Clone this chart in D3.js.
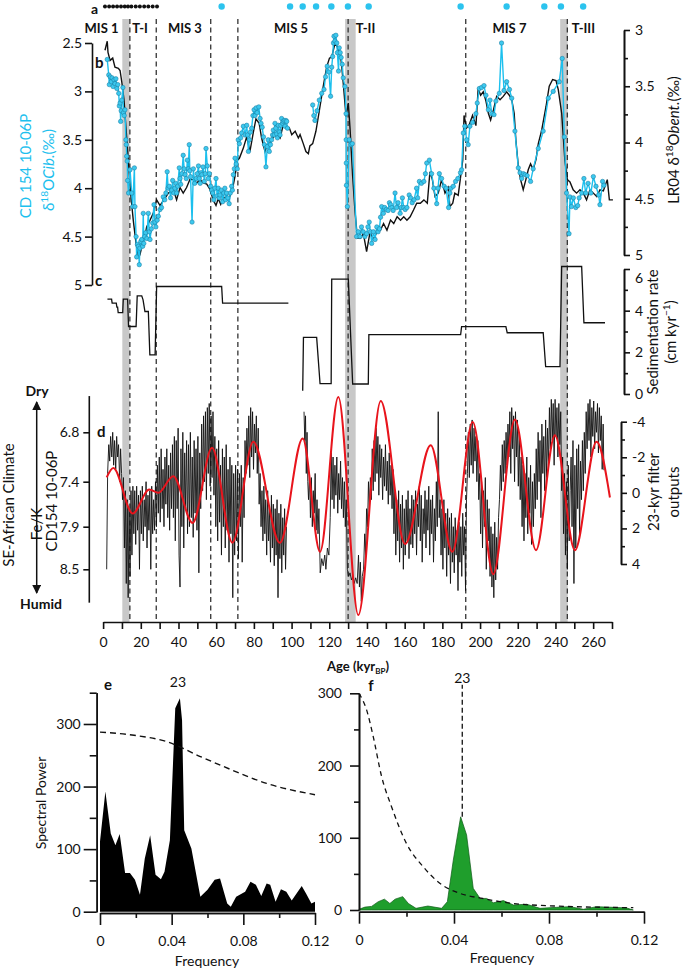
<!DOCTYPE html>
<html><head><meta charset="utf-8">
<script src="https://cdn.jsdelivr.net/npm/d3@7"></script>
<style>
body{margin:0;background:#fff;}
svg{display:block;font-family:Lato,'Open Sans',sans-serif;}
.axis text{font-size:14px;fill:#111;font-family:Lato,'Open Sans',sans-serif;}
.axis path,.axis line{stroke:#111;stroke-width:1.6;}
</style></head><body>
<svg id="c" width="685" height="970"></svg>
<script>
// ---------- DATA ----------
const bands=[[10.2,14.0],[128.4,134.0],[242.5,246.5]];
const boundaries=[14.2,28.2,57.1,71.5,130.0,192.4,246.3];
const misLabels=["MIS 1","T-I","MIS 3","MIS 5","T-II","MIS 7","T-III"];
const misAges=[-0.85,19.6,43.4,99.7,139.2,215.6,254.8];
const c14Ages=[1.0,3.2,5.3,7.4,9.5,11.5,13.2,15.0,17.3,19.5,21.8,24.0,26.3,28.6];
const tieAges=[62.9,99.2,105.9,113.0,121.1,129.9,140.9,189.7,214.1,234.1,242.9,254.7];

// LR04 benthic d18O (right axis, panel b)
const lr04=[[1.0,3.18],[2.2,3.1],[2.6,3.2],[3.7,3.27],[5.1,3.25],[6.3,3.33],[8.1,3.34],[9.0,3.36],[9.9,3.46],[11.1,3.62],[12.1,3.86],[13.4,4.16],[14.6,4.45],[16.0,4.69],[17.5,4.9],[18.7,5.01],[19.5,5.0],[20.9,4.9],[22.0,4.85],[23.1,4.75],[24.9,4.69],[26.6,4.63],[28.4,4.51],[30.2,4.56],[32.3,4.51],[34.6,4.45],[37.3,4.42],[39.0,4.51],[40.8,4.4],[42.5,4.45],[44.3,4.4],[46.0,4.33],[47.9,4.33],[49.6,4.36],[51.5,4.33],[53.2,4.36],[55.0,4.37],[56.8,4.42],[58.4,4.51],[59.9,4.56],[61.1,4.5],[62.4,4.55],[63.8,4.48],[65.5,4.51],[67.3,4.48],[68.8,4.4],[70.0,4.3],[71.2,4.16],[72.3,4.14],[74.4,4.05],[76.2,3.95],[77.9,4.08],[79.7,3.91],[81.1,3.79],[82.8,3.83],[84.1,3.96],[85.9,4.08],[87.1,4.02],[88.9,4.0],[90.3,3.95],[92.1,3.93],[93.9,3.96],[95.6,3.84],[97.4,3.87],[98.8,3.87],[100.1,3.93],[101.9,3.9],[103.6,3.96],[104.5,3.93],[106.2,4.01],[107.6,4.08],[108.9,4.1],[109.7,4.03],[111.2,4.01],[112.9,3.9],[114.7,3.72],[116.8,3.5],[118.6,3.33],[120.1,3.25],[121.3,3.24],[123.0,3.12],[124.3,3.15],[125.7,3.21],[126.5,3.3],[127.4,3.47],[128.9,3.77],[130.1,3.65],[131.0,3.87],[132.4,4.3],[133.6,4.6],[134.9,4.85],[136.6,4.85],[138.1,4.81],[139.8,4.97],[141.6,4.8],[143.4,4.86],[145.2,4.8],[147.1,4.78],[148.8,4.72],[150.6,4.78],[152.5,4.69],[154.2,4.72],[156.0,4.66],[157.8,4.69],[159.5,4.66],[161.2,4.69],[162.9,4.66],[164.7,4.6],[166.4,4.54],[168.3,4.54],[170.2,4.51],[172.0,4.54],[173.4,4.26],[174.7,4.33],[176.1,4.48],[177.8,4.45],[179.6,4.33],[181.4,4.45],[183.1,4.4],[184.0,4.57],[185.5,4.54],[186.6,4.45],[188.4,4.47],[190.8,4.16],[191.5,3.76],[192.9,3.87],[194.3,3.84],[196.0,3.76],[197.8,3.85],[199.0,3.52],[200.3,3.58],[201.7,3.55],[203.1,3.63],[204.4,3.74],[205.6,3.8],[207.1,3.71],[208.8,3.59],[210.6,3.62],[212.3,3.59],[214.1,3.55],[215.5,3.58],[216.8,3.62],[218.1,3.74],[219.0,3.98],[220.3,4.21],[221.5,4.33],[222.9,4.42],[224.3,4.33],[225.6,4.24],[226.8,4.19],[228.2,4.24],[229.7,4.15],[230.9,4.01],[232.7,3.89],[235.0,3.68],[236.7,3.5],[238.5,3.44],[240.3,3.45],[241.5,3.53],[243.3,3.74],[245.0,4.16],[246.3,4.33],[247.7,4.35],[249.4,4.42],[251.2,4.45],[253.0,4.42],[254.8,4.45],[256.5,4.51],[258.3,4.42],[260.1,4.45],[261.9,4.48],[263.6,4.42],[265.4,4.43],[267.5,4.33],[268.6,4.51],[270.5,4.51]];

// CD154 10-06P Cibicides d18O (left axis, panel b); null = gap
const cib=[[2.2,2.67],[3.0,2.83],[3.3,2.93],[3.8,2.85],[4.3,2.9],[4.8,2.86],[5.3,2.95],[5.8,2.88],[6.3,2.92],[6.8,2.87],[7.3,2.97],[7.8,2.93],[8.3,3.02],[8.6,3.15],[9.0,3.12],[9.3,3.31],[9.6,3.2],[9.9,3.09],[10.5,2.96],[10.8,3.22],[11.2,3.25],[11.6,3.19],[12.1,3.5],[12.3,3.55],[12.5,3.67],[12.8,3.72],[13.0,3.92],[13.5,4.05],[14.3,3.81],[15.2,4.05],[15.7,4.19],[16.6,3.79],[16.9,4.19],[17.5,4.5],[17.8,4.71],[18.2,4.58],[18.7,4.6],[19.2,4.79],[19.5,4.62],[20.0,4.55],[20.5,4.53],[21.0,4.6],[21.3,4.26],[21.6,4.57],[22.1,4.5],[22.6,4.46],[23.2,4.52],[24.0,4.26],[24.5,4.45],[24.9,4.53],[25.6,4.42],[26.3,4.36],[27.0,4.17],[27.5,4.35],[28.0,4.4],[28.7,4.33],[29.3,4.29],[30.2,4.22],[31.0,4.2],[31.9,4.09],[32.7,4.12],[33.3,4.05],[34.0,3.83],[34.5,4.0],[35.1,3.98],[35.8,4.1],[36.4,4.02],[36.9,3.92],[37.5,4.05],[38.1,4.0],[38.6,3.95],[39.0,4.05],[39.6,3.98],[40.4,3.79],[40.8,3.9],[41.2,3.96],[41.8,3.85],[42.5,3.66],[43.0,3.8],[43.5,3.86],[44.1,3.9],[44.7,3.71],[45.2,3.8],[45.7,3.55],[46.0,3.82],[46.4,3.88],[47.2,4.35],[47.9,3.8],[48.6,3.95],[49.4,3.9],[50.0,3.85],[50.6,3.77],[51.0,3.9],[51.5,3.95],[52.0,3.84],[52.4,3.86],[53.0,3.78],[53.7,3.93],[54.2,3.85],[54.6,3.59],[55.3,3.77],[55.8,3.9],[56.4,3.85],[57.1,3.98],[57.6,4.02],[58.1,4.05],[58.8,4.12],[59.3,4.0],[59.9,3.9],[60.5,4.08],[61.1,4.0],[61.6,4.1],[62.0,4.07],[62.7,4.02],[63.4,4.14],[64.0,4.05],[64.6,4.0],[65.0,4.12],[65.5,4.05],[66.2,4.1],[66.9,4.16],[67.5,4.05],[68.2,3.98],[68.6,4.02],[69.1,3.86],[69.6,3.8],[70.0,3.69],[70.6,3.75],[71.2,3.8],[71.7,3.5],[72.3,3.54],[73.0,3.48],[73.5,3.43],[74.4,3.36],[75.3,3.45],[76.2,3.35],[76.6,3.45],[77.1,3.62],[77.6,3.5],[78.2,3.42],[78.8,3.38],[79.5,3.25],[80.1,3.19],[80.6,3.25],[81.2,3.17],[81.7,3.22],[82.6,3.16],[83.3,3.28],[83.8,3.33],[84.4,3.37],[85.1,3.47],[85.6,3.55],[86.4,3.78],[87.1,3.57],[87.6,3.5],[88.2,3.62],[88.8,3.55],[89.4,3.5],[89.9,3.45],[90.3,3.4],[90.8,3.45],[91.2,3.33],[91.6,3.38],[92.1,3.44],[92.5,3.48],[93.0,3.35],[93.5,3.42],[93.9,3.45],[94.3,3.35],[94.7,3.28],[95.2,3.33],[95.6,3.31],[96.1,3.3],[96.5,3.36],[97.0,3.3],[97.4,3.31],[97.8,3.38],[104.0,null],[111.2,3.14],[111.8,3.25],[112.4,3.3],[113.5,3.2],[114.7,3.09],[116.0,3.02],[117.2,2.98],[118.0,2.85],[118.9,2.74],[119.8,2.8],[120.7,3.05],[121.3,2.75],[121.8,2.64],[122.2,2.5],[122.5,2.43],[123.0,2.48],[123.5,2.42],[124.0,2.5],[124.3,2.6],[124.9,2.79],[125.3,2.55],[125.8,2.6],[126.3,2.65],[126.9,2.72],[127.4,2.86],[128.3,2.95],[128.9,3.23],[128.95,3.5],[129.0,3.74],[129.1,3.97],[129.6,4.19],[130.6,3.5],[131.5,3.55],[132.2,3.54],[134.5,4.5],[135.4,4.45],[136.3,4.5],[137.1,4.4],[138.0,4.45],[138.9,4.5],[139.8,4.47],[140.5,4.4],[141.2,4.35],[141.8,4.45],[142.5,4.57],[143.4,4.45],[144.3,4.53],[145.2,4.4],[145.9,4.45],[146.6,4.42],[147.2,4.3],[147.8,4.19],[148.7,4.26],[149.4,4.2],[150.3,4.22],[151.2,4.23],[151.9,4.15],[152.5,4.17],[153.2,4.2],[153.9,4.23],[154.9,4.05],[155.7,4.2],[156.5,4.15],[157.6,4.26],[158.2,4.2],[158.8,4.1],[159.5,4.2],[160.3,4.22],[161.2,4.2],[162.4,4.07],[163.2,4.1],[164.0,4.15],[165.0,4.12],[166.3,4.0],[166.9,4.1],[167.8,3.93],[168.9,3.95],[170.2,3.93],[171.0,3.85],[171.7,3.74],[173.1,3.71],[174.3,3.85],[175.5,4.0],[177.0,4.16],[177.7,4.0],[178.4,3.85],[179.6,3.9],[180.9,3.98],[182.0,4.0],[183.3,4.2],[184.0,4.05],[184.6,4.0],[185.8,3.98],[187.0,3.93],[188.2,3.9],[189.6,3.84],[190.2,3.81],[191.1,3.43],[191.9,3.36],[192.9,3.5],[193.7,3.55],[194.6,3.36],[196.0,3.32],[197.8,3.23],[198.5,3.12],[199.6,2.97],[200.8,2.96],[202.1,2.94],[203.1,3.04],[204.4,3.19],[205.3,3.09],[206.2,3.23],[207.4,3.24],[208.4,3.1],[210.2,3.02],[211.4,2.5],[212.7,2.99],[214.1,2.9],[215.6,2.98],[216.8,3.07],[218.5,3.41],[220.3,3.79],[221.2,3.84],[222.1,3.9],[223.0,3.85],[223.9,3.86],[225.0,3.87],[226.8,3.93],[228.2,3.8],[230.9,3.59],[233.5,3.41],[236.2,3.07],[238.8,3.0],[242.0,2.9],[243.6,2.66],[244.7,3.47],[245.9,4.05],[247.2,4.47],[247.7,4.09],[248.5,4.19],[249.5,4.1],[250.8,4.2],[251.8,4.18],[252.6,4.1],[253.9,4.05],[255.1,3.9],[256.0,4.05],[257.3,3.95],[258.8,4.05],[260.1,3.88],[261.5,3.98],[262.9,4.07],[263.6,4.17],[265.0,3.93],[265.7,3.97]];

// Sedimentation rate (cm/kyr), two segments
const sedA=[[2.3,4.55],[4.5,4.55],[4.8,4.36],[7.0,4.36],[7.3,4.17],[7.7,4.17],[8.0,3.91],[10.4,3.91],[10.7,4.55],[13.0,4.55],[13.5,3.24],[17.5,3.24],[18.1,4.71],[20.5,4.71],[21.2,4.52],[22.2,3.96],[24.0,3.96],[24.8,1.88],[27.6,1.88],[28.4,5.16],[62.9,5.16],[63.4,4.36],[98.3,4.36]];
const sedB=[[105.9,0.16],[106.3,2.72],[113.3,2.72],[115.1,0.5],[121.0,0.5],[121.3,5.51],[130.1,5.51],[132.4,0.48],[140.7,0.48],[141.0,2.85],[189.7,2.85],[190.2,3.23],[213.7,3.23],[214.4,2.94],[233.5,2.94],[234.8,1.31],[242.4,1.31],[243.3,6.12],[253.9,6.12],[255.1,3.42],[266.3,3.42]];

// Fe/K (panel d), null = gap
const feK=[[1.9,8.5],[2.4,7.3],[3.0,6.95],[3.5,7.15],[4.0,6.85],[4.6,7.1],[5.1,6.8],[5.6,7.2],[6.1,6.9],[6.7,7.25],[7.2,6.85],[7.7,7.1],[8.2,6.95],[8.8,7.4],[9.3,7.0],[9.8,7.3],[10.3,7.6],[10.8,7.35],[11.3,8.2],[11.8,7.5],[12.3,8.7],[12.8,7.6],[13.3,8.9],[13.8,7.7],[14.3,8.6],[14.8,7.5],[15.3,8.3],[15.8,7.45],[16.3,8.0],[16.8,7.5],[17.3,8.15],[17.8,7.45],[18.3,7.95],[18.8,7.55],[19.3,8.5],[19.8,7.5],[20.3,8.0],[20.8,7.45],[21.3,8.1],[21.8,7.6],[22.3,7.9],[22.8,7.4],[23.3,8.2],[23.8,7.55],[24.3,7.95],[24.8,7.5],[25.3,8.5],[25.8,7.45],[26.3,8.0],[26.8,7.6],[27.3,7.95],[27.8,7.4],[28.3,7.9],[28.8,7.2],[29.3,7.75],[29.8,7.1],[30.3,7.85],[30.8,7.0],[31.3,7.7],[31.8,7.25],[32.3,7.9],[32.8,7.1],[33.3,7.65],[33.8,7.0],[34.3,7.8],[34.8,7.2],[35.3,7.95],[35.8,7.05],[36.3,7.7],[36.8,6.95],[37.3,7.8],[37.8,6.85],[38.3,8.1],[38.8,6.9],[39.3,7.7],[39.8,6.75],[40.3,8.3],[40.8,8.75],[41.3,7.0],[41.8,7.9],[42.3,6.8],[42.8,8.2],[43.3,7.05],[43.8,7.7],[44.3,6.9],[44.8,8.0],[45.3,6.95],[45.8,7.9],[46.3,6.8],[46.8,7.8],[47.3,7.1],[47.8,8.05],[48.3,6.9],[48.8,7.75],[49.3,7.0],[49.8,7.95],[50.3,6.85],[50.8,8.55],[51.3,7.05],[51.8,7.7],[52.3,6.7],[52.8,7.5],[53.3,6.6],[53.8,7.4],[54.3,6.55],[54.8,7.6],[55.3,6.5],[55.8,7.3],[56.3,6.45],[56.8,7.45],[57.3,6.6],[57.8,7.35],[58.3,6.55],[58.8,7.55],[59.3,6.85],[59.8,7.9],[60.3,7.0],[60.8,8.1],[61.3,6.9],[61.8,7.85],[62.3,7.2],[62.8,8.3],[63.3,7.0],[63.8,7.9],[64.3,7.1],[64.8,8.2],[65.3,6.95],[65.8,7.95],[66.3,7.25],[66.8,8.4],[67.3,7.1],[67.8,8.0],[68.3,7.2],[68.8,8.9],[69.3,7.3],[69.8,8.3],[70.3,7.2],[70.8,8.1],[71.3,7.25],[71.8,8.35],[72.3,7.3],[72.8,7.9],[73.3,7.2],[73.8,8.4],[74.3,7.35],[74.8,7.8],[75.3,6.9],[75.8,7.3],[76.3,6.75],[76.8,7.2],[77.3,6.6],[77.8,7.35],[78.3,6.5],[78.8,7.1],[79.3,6.55],[79.8,7.25],[80.3,6.7],[80.8,7.05],[81.3,6.6],[81.8,7.3],[82.3,6.75],[82.8,7.65],[83.3,7.3],[83.8,7.9],[84.3,7.5],[84.8,8.1],[85.3,7.45],[85.8,8.0],[86.3,7.6],[86.8,8.3],[87.3,7.5],[87.8,8.1],[88.3,7.7],[88.8,8.4],[89.3,7.55],[89.8,8.2],[90.3,7.65],[90.8,8.45],[91.3,7.7],[91.8,8.3],[92.3,7.6],[92.8,8.9],[93.3,7.75],[93.8,8.35],[94.3,7.65],[94.8,8.55],[95.3,7.8],[95.8,8.3],[96.3,7.7],[96.8,8.5],[97.3,7.9],[100.0,null],[106.6,6.55],[107.0,6.9],[107.4,6.6],[107.8,7.3],[108.2,6.8],[108.6,7.4],[109.0,7.6],[109.5,7.3],[110.0,7.8],[110.5,7.35],[111.0,7.9],[111.5,7.5],[112.0,7.75],[112.5,7.3],[113.0,7.95],[113.5,7.6],[114.0,8.0],[114.5,7.7],[115.2,8.55],[116.0,8.35],[116.8,8.45],[117.6,8.3],[118.2,8.5],[119.0,8.2],[119.8,8.3],[120.5,7.8],[121.0,7.05],[121.5,7.6],[122.0,7.1],[122.5,7.7],[123.0,7.2],[123.5,7.55],[124.0,7.1],[124.5,7.75],[125.0,7.3],[125.5,7.6],[126.0,7.15],[126.5,7.7],[127.0,7.35],[127.5,7.8],[128.0,7.4],[128.5,7.9],[129.0,7.6],[129.6,8.5],[130.3,8.6],[131.0,8.55],[131.8,8.65],[132.5,8.6],[133.2,8.7],[134.0,8.62],[134.8,8.7],[135.5,8.3],[136.0,8.75],[136.5,8.4],[137.0,8.95],[137.5,8.6],[138.2,8.5],[138.8,8.0],[139.3,8.3],[139.8,7.7],[140.3,7.9],[140.8,7.4],[141.3,7.7],[141.8,7.35],[142.3,7.6],[142.8,7.0],[143.3,7.5],[143.8,6.9],[144.3,7.4],[144.8,6.75],[145.3,7.3],[145.8,6.85],[146.3,7.55],[146.8,6.95],[147.3,7.35],[147.8,7.0],[148.3,7.6],[148.8,7.1],[149.3,7.45],[149.8,6.95],[150.3,7.5],[150.8,7.15],[151.3,7.65],[151.8,7.05],[152.3,7.55],[152.8,7.2],[153.3,7.7],[153.8,7.25],[154.3,8.0],[154.8,7.5],[155.3,8.3],[155.8,7.6],[156.3,8.1],[156.8,7.5],[157.3,8.4],[157.8,7.65],[158.3,8.2],[158.8,7.55],[159.3,8.5],[159.8,7.7],[160.3,8.3],[160.8,7.6],[161.3,8.1],[161.8,7.5],[162.3,8.35],[162.8,7.7],[163.3,8.15],[163.8,7.55],[164.3,8.2],[164.8,7.6],[165.3,8.0],[165.8,7.5],[166.3,8.3],[166.8,7.65],[167.3,7.9],[167.8,7.45],[168.3,8.1],[168.8,7.55],[169.3,8.4],[169.8,7.7],[170.3,8.0],[170.8,7.5],[171.3,8.2],[171.8,7.6],[172.3,7.95],[172.8,7.45],[173.3,8.3],[173.8,7.6],[174.3,8.0],[174.8,7.55],[175.3,8.4],[175.8,7.7],[176.3,8.1],[176.8,7.4],[177.3,7.9],[177.8,6.55],[178.3,7.8],[178.8,7.6],[179.3,8.3],[179.8,7.7],[180.3,8.5],[180.8,7.6],[181.3,8.2],[181.8,7.75],[182.3,8.6],[182.8,7.7],[183.3,8.3],[183.8,7.8],[184.3,8.7],[184.8,7.75],[185.3,8.4],[185.8,7.9],[186.3,8.55],[186.8,7.8],[187.3,8.3],[187.8,7.95],[188.3,8.8],[188.8,7.85],[189.3,8.4],[189.8,7.9],[190.3,8.6],[190.8,7.75],[191.3,8.3],[191.8,7.9],[192.3,8.8],[192.8,7.6],[193.3,7.3],[193.8,6.8],[194.3,7.35],[194.8,6.7],[195.3,7.2],[195.8,6.65],[196.3,7.3],[196.8,6.75],[197.3,7.15],[197.8,6.85],[198.3,7.4],[198.8,6.9],[199.3,7.6],[199.8,7.3],[200.3,8.0],[200.8,7.4],[201.3,8.2],[201.8,7.5],[202.3,7.9],[202.8,7.35],[203.3,8.5],[203.8,7.6],[204.3,8.1],[204.8,7.7],[205.3,8.6],[205.8,7.9],[206.3,8.75],[206.8,8.0],[207.3,8.9],[207.8,7.85],[208.3,8.65],[208.8,8.05],[209.3,8.5],[209.8,7.8],[210.3,7.6],[210.8,7.2],[211.3,7.5],[211.8,6.95],[212.3,7.4],[212.8,6.9],[213.3,7.3],[213.8,6.8],[214.3,7.2],[214.8,6.7],[215.3,7.1],[215.8,6.55],[216.3,7.3],[216.8,6.5],[217.3,7.0],[217.8,6.6],[218.3,7.4],[218.8,6.55],[219.3,7.1],[219.8,6.65],[220.3,7.45],[220.8,6.8],[221.3,7.6],[221.8,7.1],[222.3,7.9],[222.8,7.2],[223.3,8.1],[223.8,7.3],[224.3,7.8],[224.8,7.1],[225.3,8.0],[225.8,7.35],[226.3,7.75],[226.8,7.2],[227.3,8.15],[227.8,7.4],[228.3,7.9],[228.8,7.3],[229.3,7.7],[229.8,7.0],[230.3,7.6],[230.8,6.8],[231.3,7.4],[231.8,6.9],[232.3,7.8],[232.8,6.7],[233.3,7.3],[233.8,6.85],[234.3,7.5],[234.8,6.65],[235.3,7.35],[235.8,6.75],[236.3,7.2],[236.8,6.5],[237.3,7.0],[237.8,6.4],[238.3,6.9],[238.8,6.45],[239.3,7.2],[239.8,6.4],[240.3,6.85],[240.8,6.5],[241.3,7.1],[241.8,6.45],[242.3,6.95],[242.8,6.55],[243.3,7.5],[243.8,7.1],[244.3,8.0],[244.8,7.3],[245.3,8.3],[245.8,7.4],[246.3,8.5],[246.8,7.2],[247.3,8.1],[247.8,7.5],[248.3,7.1],[248.8,7.9],[249.3,6.9],[249.8,8.7],[250.3,7.2],[250.8,8.2],[251.3,7.0],[251.8,7.7],[252.3,6.95],[252.8,8.0],[253.3,7.15],[253.8,7.6],[254.3,6.9],[254.8,7.5],[255.3,6.8],[255.8,7.3],[256.3,6.55],[256.8,7.0],[257.3,6.45],[257.8,6.9],[258.3,6.4],[258.8,7.1],[259.3,6.5],[259.8,6.85],[260.3,6.42],[260.8,7.0],[261.3,6.55],[261.8,6.8],[262.3,6.45],[262.8,7.05],[263.3,6.5],[263.8,6.9],[264.3,6.6],[264.8,7.25],[265.3,6.7],[265.7,7.26]];

// 23-kyr filter output (extrema)
const filt23=[[1.9,-0.87],[5.4,-1.4],[15.7,1.16],[24.5,-0.19],[29.3,0.0],[37.2,-0.94],[47.5,1.69],[57.8,-2.53],[68.6,2.8],[79.7,-2.87],[93.8,2.81],[105.9,-3.06],[115.1,3.31],[124.8,-5.39],[135.4,6.87],[147.3,-5.17],[160.2,2.88],[173.8,-2.68],[185.3,3.31],[196.1,-3.99],[207.0,4.57],[218.5,-4.12],[229.7,3.22],[239.7,-3.24],[250.3,3.22],[261.8,-2.87],[268.9,0.26]];

// Spectra
const specE=[[0,112],[0.0006,128],[0.003,192],[0.006,125],[0.0086,106],[0.011,124],[0.014,62],[0.0167,62],[0.0195,51],[0.0223,27],[0.025,85],[0.028,122],[0.031,59],[0.034,52],[0.036,64],[0.039,114],[0.042,325],[0.0446,341],[0.0458,306],[0.047,130],[0.051,101],[0.056,24],[0.06,35],[0.064,51],[0.067,53],[0.071,13],[0.073,8],[0.076,24],[0.081,32],[0.084,48],[0.087,43],[0.09,25],[0.093,45],[0.095,43],[0.098,16],[0.101,36],[0.104,32],[0.107,18],[0.1126,41],[0.115,29],[0.118,13],[0.12,16]];
const confE=[[0,287],[0.019,282],[0.037,272],[0.056,248],[0.074,226],[0.093,205],[0.12,187]];
const specF=[[0,1],[0.0025,4],[0.0053,5],[0.0081,11.5],[0.0107,15],[0.013,9],[0.0152,15],[0.0184,18.5],[0.0208,9],[0.024,2.3],[0.029,5.5],[0.0348,2.3],[0.0372,11.5],[0.0397,69],[0.0428,129],[0.0453,104],[0.0481,30],[0.051,16],[0.0537,16],[0.0566,10],[0.0608,13],[0.065,7],[0.0706,8],[0.0762,2.3],[0.0832,3.7],[0.0888,4.6],[0.0945,1],[0.1,4.6],[0.107,3.7],[0.1127,2.8],[0.1155,0]];
const confF=[[0,300],[0.0032,277],[0.006,240],[0.0095,185],[0.0137,143],[0.02,92],[0.027,60],[0.034,37],[0.0425,23],[0.052,16],[0.065,9],[0.083,5.5],[0.1155,3.2]];
const precPeriod=23;

// ---------- DRAW ----------
const svg=d3.select("#c");
const FONT="Lato,'Open Sans',sans-serif";
const CYAN="#1cc0ee";
const x=d3.scaleLinear().domain([0,270]).range([103.1,612]);
const yCib=d3.scaleLinear().domain([2.5,5]).range([43,285]);
const yLR=d3.scaleLinear().domain([3,5]).range([30,255]);
const ySed=d3.scaleLinear().domain([0,6]).range([394,269]);
const yFe=d3.scaleLinear().domain([6.8,7.4,7.9,8.5]).range([432.3,481.7,526.7,569.3]);
const yFil=d3.scaleLinear().domain([-4,4]).range([421.7,564]);
const xe=d3.scaleLinear().domain([0,0.12]).range([100,315]);
const ye=d3.scaleLinear().domain([0,350]).range([911.7,692.7]);
const xf=d3.scaleLinear().domain([0,0.12]).range([359,644]);
const yf=d3.scaleLinear().domain([0,300]).range([910,693.3]);
const topY=19, axisY=622;

// bands & boundaries
svg.append("g").selectAll("rect").data(bands).join("rect")
  .attr("x",d=>x(d[0])).attr("width",d=>x(d[1])-x(d[0]))
  .attr("y",topY).attr("height",axisY-topY).attr("fill","#c8c8c8");
svg.append("g").selectAll("line").data(boundaries).join("line")
  .attr("x1",d=>x(d)).attr("x2",d=>x(d)).attr("y1",topY).attr("y2",axisY)
  .attr("stroke","#333").attr("stroke-width",1.3).attr("stroke-dasharray","5,3.5");

// text helper
function txt(px,py,s,o={}){
  return svg.append("text").attr("x",px).attr("y",py).text(s)
    .attr("font-family",FONT).attr("font-size",o.size||14)
    .attr("font-weight",o.bold?"bold":"normal").attr("fill",o.fill||"#111")
    .attr("text-anchor",o.anchor||"start");
}

// row a
txt(91,13.5,"a",{bold:true,size:14});
svg.append("g").selectAll("circle").data(c14Ages).join("circle")
  .attr("cx",d=>x(d)).attr("cy",6.5).attr("r",2).attr("fill","#111");
svg.append("g").selectAll("circle").data(tieAges).join("circle")
  .attr("cx",d=>x(d)).attr("cy",6.5).attr("r",3.2).attr("fill","#2cc3ee");

// MIS labels
misLabels.forEach((m,i)=>txt(x(misAges[i]),33,m,{bold:true,size:13,anchor:"middle"}));

// panel b
txt(95,68,"b",{bold:true,size:15});
const lineLR=d3.line().x(d=>x(d[0])).y(d=>yLR(d[1]));
svg.append("path").attr("d",lineLR(lr04)).attr("fill","none").attr("stroke","#111").attr("stroke-width",1.4);
const lineCib=d3.line().defined(d=>d[1]!==null).x(d=>x(d[0])).y(d=>yCib(d[1]));
svg.append("path").attr("d",lineCib(cib)).attr("fill","none").attr("stroke",CYAN).attr("stroke-width",1.4);
svg.append("g").selectAll("circle").data(cib.filter(d=>d[1]!==null)).join("circle")
  .attr("cx",d=>x(d[0])).attr("cy",d=>yCib(d[1])).attr("r",2.2)
  .attr("fill","#3cc8ee").attr("stroke","#1a7fa3").attr("stroke-width",0.55);

function ax(g){g.attr("class","axis");g.selectAll("text").attr("font-family",FONT).attr("font-size",14);return g;}
ax(svg.append("g").attr("transform","translate(92,0)")
  .call(d3.axisLeft(yCib).tickValues([2.5,3,3.5,4,4.5,5]).tickSize(7).tickSizeOuter(0).tickPadding(3).tickFormat(d=>d)));
ax(svg.append("g").attr("transform","translate(624,0)")
  .call(d3.axisRight(yLR).tickValues([3,3.5,4,4.5,5]).tickSize(6).tickSizeOuter(0).tickPadding(5).tickFormat(d=>d)));
ax(svg.append("g").attr("transform","translate(624,0)")
  .call(d3.axisRight(yLR).tickValues([3.25,3.75,4.25,4.75]).tickSize(4).tickSizeOuter(0).tickFormat("")));

// rotated labels
function rot(cx,cy,parts,fill,size){
  const t=svg.append("text").attr("transform",`translate(${cx},${cy}) rotate(-90)`)
    .attr("text-anchor","middle").attr("font-family",FONT).attr("font-size",size||15).attr("fill",fill||"#111");
  parts.forEach(p=>{
    const s=t.append("tspan").text(p.t);
    if(p.sup){s.attr("font-size",(size||15)*0.68).attr("dy",-6);}
    if(p.down){s.attr("dy",6);}
    if(p.it){s.attr("font-style","italic");}
  });
  return t;
}
rot(31,166,[{t:"CD 154 10-06P"}],CYAN,15);
rot(54,170,[{t:"δ"},{t:"18",sup:true},{t:"O",down:true},{t:"Cib.",it:true},{t:"(‰)"}],CYAN,15);
rot(679,140,[{t:"LR04 δ"},{t:"18",sup:true},{t:"O",down:true},{t:"bent.",it:true},{t:"(‰)"}],"#111",15);

// panel c
txt(95,286,"c",{bold:true,size:15});
const lineSed=d3.line().x(d=>x(d[0])).y(d=>ySed(d[1]));
[sedA,sedB].forEach(s=>svg.append("path").attr("d",lineSed(s)).attr("fill","none").attr("stroke","#111").attr("stroke-width",1.3));
const gSed=ax(svg.append("g").attr("transform","translate(624,0)")
  .call(d3.axisRight(ySed).tickValues([0,2,4,6]).tickSize(6).tickSizeOuter(0).tickPadding(5).tickFormat(d=>d)));
gSed.selectAll(".tick text").filter(d=>d===6).attr("dy","0.95em").attr("font-size",13);
ax(svg.append("g").attr("transform","translate(624,0)")
  .call(d3.axisRight(ySed).tickValues([1,3,5]).tickSize(4).tickSizeOuter(0).tickFormat("")));
rot(658,332,[{t:"Sedimentation rate"}],"#111",15);
rot(676,332,[{t:"(cm kyr"},{t:"−1",sup:true},{t:")",down:true}],"#111",15);

// panel d
const lineFe=d3.line().defined(d=>d[1]!==null).x(d=>x(d[0])).y(d=>yFe(d[1]));
svg.append("path").attr("d",lineFe(feK)).attr("fill","none").attr("stroke","#111").attr("stroke-width",0.9);
const lineFil=d3.line().curve(d3.curveMonotoneX).x(d=>x(d[0])).y(d=>yFil(d[1]));
svg.append("path").attr("d",lineFil(filt23)).attr("fill","none").attr("stroke","#e8141c").attr("stroke-width",2);
txt(97,437,"d",{bold:true,size:15});
const gFe=ax(svg.append("g").attr("transform","translate(89.3,0)")
  .call(d3.axisLeft(yFe).tickValues([6.8,7.4,7.9,8.5]).tickSize(6).tickSizeOuter(0).tickPadding(4).tickFormat(d=>d)));
gFe.select(".domain").attr("d",d3.line()([[0,yFe(6.36)],[0,yFe(8.97)]]));
ax(svg.append("g").attr("transform","translate(621,0)")
  .call(d3.axisRight(yFil).tickValues([-4,-2,0,2,4]).tickSize(6).tickSizeOuter(0).tickPadding(5).tickFormat(d=>String(d))));
ax(svg.append("g").attr("transform","translate(621,0)")
  .call(d3.axisRight(yFil).tickValues([-3,-1,1,3]).tickSize(4).tickSizeOuter(0).tickFormat("")));
rot(659,492,[{t:"23-kyr filter"}],"#111",15);
rot(679,492,[{t:"outputs"}],"#111",15);
rot(14,505,[{t:"SE-African Climate"}],"#111",15);
rot(42,524,[{t:"Fe/K"}],"#111",15);
rot(57,501,[{t:"CD154 10-06P"}],"#111",15);
// Dry/Humid arrow
const defs=svg.append("defs");
defs.append("marker").attr("id","ah").attr("viewBox","0 0 10 10").attr("refX",9).attr("refY",5)
  .attr("markerWidth",6).attr("markerHeight",6).attr("orient","auto-start-reverse")
  .append("path").attr("d","M0,0L10,5L0,10z").attr("fill","#111");
svg.append("line").attr("x1",36.7).attr("x2",36.7).attr("y1",402).attr("y2",593)
  .attr("stroke","#111").attr("stroke-width",1.5).attr("marker-start","url(#ah)").attr("marker-end","url(#ah)");
txt(37,396,"Dry",{bold:true,size:14,anchor:"middle"});
txt(41,609,"Humid",{bold:true,size:14,anchor:"middle"});

// x axis
ax(svg.append("g").attr("transform",`translate(0,${axisY})`)
  .call(d3.axisBottom(x).tickValues(d3.range(0,271,10)).tickSize(7).tickSizeOuter(0).tickPadding(8)
  .tickFormat(d=>d%20===0?d:"")));
const at=txt(358,671,"Age (kyr",{bold:true,size:13,anchor:"middle"});
at.append("tspan").text("BP").attr("font-size",8).attr("dy",3);
at.append("tspan").text(")").attr("dy",-3);

// panel e
const areaE=d3.area().x(d=>xe(d[0])).y0(ye(0)).y1(d=>ye(d[1]));
svg.append("path").attr("d",areaE(specE)).attr("fill","#000");
svg.append("path").attr("d",d3.line().curve(d3.curveMonotoneX).x(d=>xe(d[0])).y(d=>ye(d[1]))(confE))
  .attr("fill","none").attr("stroke","#111").attr("stroke-width",1.4).attr("stroke-dasharray","6,4");
ax(svg.append("g").attr("transform","translate(96.7,0)")
  .call(d3.axisLeft(ye).tickValues([0,100,200,300]).tickSize(13).tickSizeOuter(0).tickPadding(3).tickFormat(d=>d)));
ax(svg.append("g").attr("transform","translate(96.7,0)")
  .call(d3.axisLeft(ye).tickValues([50,150,250,350]).tickSize(7).tickSizeOuter(0).tickFormat("")));
ax(svg.append("g").attr("transform","translate(0,913)")
  .call(d3.axisBottom(xe).tickValues([0,0.04,0.08,0.12]).tickSize(12).tickSizeOuter(0).tickPadding(11).tickFormat(d=>String(d))));
ax(svg.append("g").attr("transform","translate(0,913)")
  .call(d3.axisBottom(xe).tickValues([0.02,0.06,0.1]).tickSize(5).tickSizeOuter(0).tickFormat("")));
txt(207,966,"Frequency",{size:14,anchor:"middle"});
rot(46,803,[{t:"Spectral Power"}],"#111",14);
txt(104,690,"e",{bold:true,size:15});
txt(xe(1/precPeriod),687,String(precPeriod),{size:14,anchor:"middle"});

// panel f
const areaF=d3.area().x(d=>xf(d[0])).y0(yf(0)).y1(d=>yf(d[1]));
svg.append("path").attr("d",areaF(specF)).attr("fill","#1f9e2c").attr("stroke","#0d5a16").attr("stroke-width",0.7);
svg.append("path").attr("d",d3.line().curve(d3.curveMonotoneX).x(d=>xf(d[0])).y(d=>yf(d[1]))(confF))
  .attr("fill","none").attr("stroke","#111").attr("stroke-width",1.3).attr("stroke-dasharray","5,4");
const peakF=d3.max(specF,d=>d[1]);
svg.append("line").attr("x1",xf(1/precPeriod)).attr("x2",xf(1/precPeriod)).attr("y1",yf(peakF)).attr("y2",yf(312))
  .attr("stroke","#111").attr("stroke-width",1.3).attr("stroke-dasharray","5,3");
ax(svg.append("g").attr("transform","translate(359,0)")
  .call(d3.axisLeft(yf).tickValues([0,100,200,300]).tickSize(9).tickSizeOuter(0).tickPadding(8).tickFormat(d=>d)));
ax(svg.append("g").attr("transform","translate(359,0)")
  .call(d3.axisLeft(yf).tickValues([50,150,250]).tickSize(5).tickSizeOuter(0).tickFormat("")));
ax(svg.append("g").attr("transform","translate(0,911.7)")
  .call(d3.axisBottom(xf).tickValues([0,0.04,0.08,0.12]).tickSize(12).tickSizeOuter(0).tickPadding(11).tickFormat(d=>String(d))));
ax(svg.append("g").attr("transform","translate(0,911.7)")
  .call(d3.axisBottom(xf).tickValues([0.02,0.06,0.1]).tickSize(5).tickSizeOuter(0).tickFormat("")));
txt(502,963,"Frequency",{size:14,anchor:"middle"});
txt(371,691,"f",{bold:true,size:15,anchor:"middle"});
txt(xf(1/precPeriod),683,String(precPeriod),{size:14,anchor:"middle"});
</script></body></html>
